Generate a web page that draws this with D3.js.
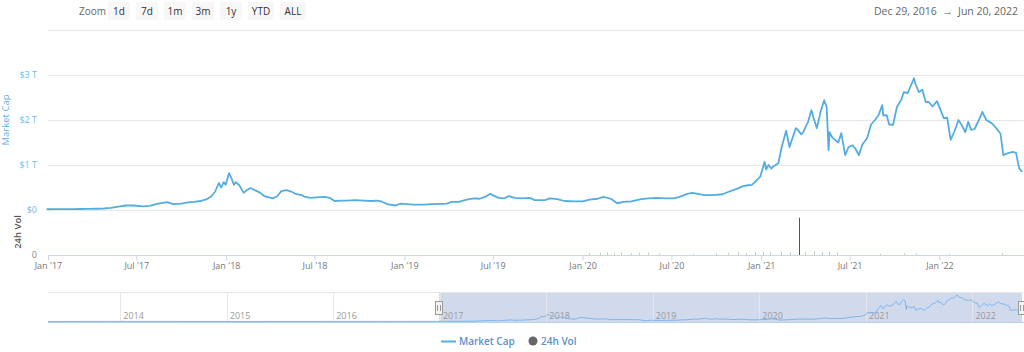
<!DOCTYPE html>
<html>
<head>
<meta charset="utf-8">
<script src="https://cdn.jsdelivr.net/npm/d3@7"></script>
<style>
  body { margin: 0; background: #fff; }
  svg { display: block; font-family: "Open Sans", sans-serif; }
</style>
</head>
<body>
<script>
// market cap, trillions of USD
var capDates = ["2016-12-29","2017-01-15","2017-02-01","2017-02-20","2017-03-10","2017-03-25","2017-04-10","2017-04-25","2017-05-10","2017-05-25","2017-06-10","2017-06-25","2017-07-15","2017-07-28","2017-08-15","2017-09-02","2017-09-15","2017-10-01","2017-10-15","2017-10-27","2017-11-10","2017-11-22","2017-12-01","2017-12-09","2017-12-17","2017-12-22","2017-12-27","2017-12-31","2018-01-07","2018-01-12","2018-01-17","2018-01-21","2018-01-28","2018-02-06","2018-02-12","2018-02-20","2018-03-05","2018-03-12","2018-03-20","2018-03-30","2018-04-06","2018-04-15","2018-04-24","2018-05-05","2018-05-14","2018-05-23","2018-06-05","2018-06-12","2018-06-23","2018-07-05","2018-07-22","2018-08-01","2018-08-11","2018-08-25","2018-09-05","2018-09-22","2018-10-10","2018-10-25","2018-11-06","2018-11-15","2018-11-27","2018-12-14","2018-12-24","2019-01-05","2019-01-20","2019-02-11","2019-02-25","2019-03-15","2019-03-29","2019-04-08","2019-04-22","2019-05-13","2019-05-25","2019-06-04","2019-06-15","2019-06-26","2019-07-01","2019-07-13","2019-07-25","2019-08-03","2019-08-15","2019-08-30","2019-09-15","2019-09-25","2019-10-16","2019-10-26","2019-11-10","2019-11-25","2019-12-15","2020-01-01","2020-01-15","2020-02-01","2020-02-13","2020-02-28","2020-03-12","2020-03-25","2020-04-10","2020-04-30","2020-05-15","2020-06-01","2020-06-20","2020-07-05","2020-07-18","2020-08-02","2020-08-13","2020-09-07","2020-09-25","2020-10-14","2020-10-25","2020-11-12","2020-11-25","2020-12-05","2020-12-13","2020-12-22","2020-12-30","2021-01-08","2021-01-11","2021-01-16","2021-01-22","2021-01-25","2021-02-05","2021-02-12","2021-02-21","2021-02-28","2021-03-03","2021-03-13","2021-03-17","2021-03-24","2021-03-28","2021-04-07","2021-04-14","2021-04-18","2021-04-25","2021-05-03","2021-05-10","2021-05-15","2021-05-19","2021-05-21","2021-05-26","2021-06-01","2021-06-08","2021-06-14","2021-06-22","2021-06-29","2021-07-07","2021-07-13","2021-07-20","2021-07-27","2021-08-06","2021-08-14","2021-08-22","2021-08-29","2021-09-06","2021-09-08","2021-09-15","2021-09-20","2021-09-28","2021-10-06","2021-10-15","2021-10-20","2021-10-28","2021-11-03","2021-11-10","2021-11-13","2021-11-20","2021-11-27","2021-12-04","2021-12-10","2021-12-18","2021-12-27","2022-01-05","2022-01-10","2022-01-17","2022-01-24","2022-02-01","2022-02-09","2022-02-15","2022-02-23","2022-03-01","2022-03-07","2022-03-14","2022-03-22","2022-03-30","2022-04-07","2022-04-18","2022-04-25","2022-04-30","2022-05-06","2022-05-12","2022-05-20","2022-05-31","2022-06-07","2022-06-13","2022-06-18","2022-06-20"];
var capValues = [0.017,0.018,0.018,0.02,0.022,0.025,0.028,0.033,0.045,0.075,0.1,0.1,0.082,0.09,0.14,0.175,0.13,0.14,0.17,0.18,0.2,0.24,0.3,0.4,0.6,0.5,0.62,0.56,0.82,0.7,0.56,0.62,0.55,0.38,0.44,0.49,0.42,0.38,0.31,0.28,0.26,0.3,0.42,0.44,0.41,0.36,0.33,0.29,0.27,0.28,0.29,0.27,0.2,0.21,0.21,0.22,0.21,0.2,0.21,0.19,0.13,0.1,0.14,0.13,0.12,0.12,0.13,0.135,0.14,0.18,0.18,0.24,0.26,0.25,0.29,0.36,0.33,0.27,0.26,0.31,0.27,0.26,0.27,0.22,0.22,0.26,0.24,0.2,0.19,0.19,0.23,0.25,0.29,0.25,0.15,0.18,0.19,0.24,0.26,0.27,0.26,0.26,0.29,0.36,0.38,0.33,0.33,0.35,0.4,0.47,0.53,0.55,0.56,0.65,0.74,1.07,0.9,1.0,0.92,0.96,1.04,1.4,1.76,1.4,1.5,1.82,1.78,1.68,1.73,1.96,2.22,2.05,1.82,2.2,2.44,2.29,1.33,1.73,1.62,1.56,1.5,1.71,1.22,1.4,1.44,1.36,1.22,1.45,1.6,1.9,2.0,2.1,2.33,2.1,2.11,1.9,1.89,2.29,2.45,2.62,2.6,2.75,2.93,2.8,2.62,2.67,2.4,2.4,2.3,2.42,2.18,2.04,2.05,1.56,1.75,2.0,1.9,1.73,1.96,1.78,1.8,1.98,2.18,2.0,1.93,1.85,1.78,1.7,1.22,1.26,1.29,1.27,0.94,0.86,0.87];

// history before the shown range (navigator only)
var earlyDates = ["2013-04-28","2013-11-30","2014-01-01","2014-06-01","2015-01-01","2015-06-01","2016-01-01","2016-06-01"];
var earlyValues = [0.0015,0.013,0.011,0.008,0.004,0.0035,0.007,0.012];

// 24h volume
var volDates = ["2020-01-15","2020-02-05","2020-02-20","2020-03-05","2020-03-20","2020-04-10","2020-04-25","2020-05-15","2020-06-05","2020-08-15","2020-10-01","2020-10-25","2020-11-15","2020-12-01","2020-12-20","2021-01-05","2021-01-20","2021-02-10","2021-03-01","2021-03-19","2021-04-01","2021-04-20","2021-05-05","2021-05-20","2021-06-05","2021-09-01","2021-10-20","2021-11-15","2022-01-20","2022-05-10"];
var volValues = [16,20,24,18,22,16,20,22,14,12,16,20,24,18,28,30,24,30,26,355,24,34,28,32,22,12,16,14,12,16];

var capTicks = [0, 1, 2, 3, 4];
var capTickLabels = ["$0", "$1 T", "$2 T", "$3 T", ""];
var zoomButtons = ["1d", "7d", "1m", "3m", "1y", "YTD", "ALL"];
var navYears = [2014, 2015, 2016, 2017, 2018, 2019, 2020, 2021, 2022];

var width = 1024, height = 352;
var parse = d3.timeParse("%Y-%m-%d");
var blue = "#54ade0";

var cap = capDates.map(function (d, i) { return { date: parse(d), value: capValues[i] }; });
var early = earlyDates.map(function (d, i) { return { date: parse(d), value: earlyValues[i] }; });
var vol = volDates.map(function (d, i) { return { date: parse(d), value: volValues[i] }; });
var navData = early.concat(cap);

var svg = d3.select("body").append("svg")
    .attr("width", width)
    .attr("height", height);

var x = d3.scaleTime()
    .domain([parse("2016-12-29"), parse("2022-06-20")])
    .range([46.5, 1022.4]);
var y = d3.scaleLinear().domain([0, 4]).range([210, 30]);
var yVol = d3.scaleLinear().domain([0, 400]).range([255, 213]);

// zoom buttons
svg.append("text")
    .attr("x", 79).attr("y", 15)
    .attr("font-size", 10).attr("fill", "#666")
    .text("Zoom");
var bx = 108;
zoomButtons.forEach(function (b) {
    var w = b.length > 2 ? 26 : 22;
    svg.append("rect")
        .attr("x", bx).attr("y", 2).attr("width", w).attr("height", 18)
        .attr("fill", "#f7f7f7");
    svg.append("text")
        .attr("x", bx + w / 2).attr("y", 15)
        .attr("text-anchor", "middle")
        .attr("font-size", 10).attr("fill", "#333")
        .text(b);
    bx += w + 6;
});

svg.append("text")
    .attr("x", 1018).attr("y", 15)
    .attr("text-anchor", "end")
    .attr("font-size", 10.5).attr("fill", "#666")
    .text("Dec 29, 2016\u00a0\u00a0\u2192\u00a0\u00a0Jun 20, 2022");

// grid lines
svg.append("g").selectAll("line")
    .data(capTicks)
    .enter().append("line")
    .attr("x1", 48).attr("x2", width)
    .attr("y1", function (d) { return y(d) + 0.5; })
    .attr("y2", function (d) { return y(d) + 0.5; })
    .attr("stroke", "#e6e6e6");

svg.append("g").selectAll("text")
    .data(capTicks)
    .enter().append("text")
    .attr("x", 37)
    .attr("y", function (d) { return y(d) + 3; })
    .attr("text-anchor", "end")
    .attr("font-size", 9)
    .attr("fill", "#6bbde8")
    .text(function (d, i) { return capTickLabels[i]; });

svg.append("text")
    .attr("transform", "translate(9,120) rotate(-90)")
    .attr("text-anchor", "middle")
    .attr("font-size", 9.5)
    .attr("fill", "#5ab3e3")
    .text("Market Cap");

svg.append("text")
    .attr("transform", "translate(21,232) rotate(-90)")
    .attr("text-anchor", "middle")
    .attr("font-size", 9.5)
    .attr("font-weight", 600)
    .attr("fill", "#555")
    .text("24h Vol");

svg.append("text")
    .attr("x", 37).attr("y", 258)
    .attr("text-anchor", "end")
    .attr("font-size", 9).attr("fill", "#888")
    .text("0");

// volume bars
svg.append("g").selectAll("rect")
    .data(vol)
    .enter().append("rect")
    .attr("x", function (d) { return Math.round(x(d.date)); })
    .attr("y", function (d) { return yVol(d.value); })
    .attr("width", 1)
    .attr("height", function (d) { return yVol(0) - yVol(d.value); })
    .attr("fill", function (d) { return d.value > 100 ? "#555" : "#c4c4c4"; });

// x axis
var xAxis = d3.axisBottom(x)
    .tickValues(d3.timeMonth.every(6).range(parse("2017-01-01"), parse("2022-02-01")))
    .tickFormat(d3.timeFormat("%b '%y"))
    .tickSize(5)
    .tickPadding(2);
var gx = svg.append("g")
    .attr("transform", "translate(0,255.5)")
    .call(xAxis);
gx.select(".domain").attr("stroke", "#ccd6eb").attr("d", "M48,0H" + width);
gx.selectAll(".tick line").attr("stroke", "#ccd6eb");
gx.selectAll(".tick text").attr("fill", "#777").attr("font-size", 9)
    .attr("font-family", "Open Sans, sans-serif");

// market cap line
var line = d3.line()
    .x(function (d) { return x(d.date); })
    .y(function (d) { return y(d.value); });
svg.append("path")
    .datum(cap)
    .attr("d", line)
    .attr("fill", "none")
    .attr("stroke", blue)
    .attr("stroke-width", 1.8)
    .attr("stroke-linejoin", "round");

// navigator
var xNav = d3.scaleTime()
    .domain([parse("2013-04-28"), parse("2022-06-20")])
    .range([48, 1022]);
var yNav = d3.scaleLinear()
    .domain([0, d3.max(navData, function (d) { return d.value; })])
    .range([321.5, 295]);

svg.append("rect")
    .attr("x", xNav(parse("2016-12-29"))).attr("y", 293)
    .attr("width", xNav(parse("2022-06-20")) - xNav(parse("2016-12-29")))
    .attr("height", 29)
    .attr("fill", "rgba(102,133,194,0.3)");

svg.append("line")
    .attr("x1", 48).attr("x2", width)
    .attr("y1", 292.5).attr("y2", 292.5)
    .attr("stroke", "#e6e6e6");

var navGrid = svg.append("g").selectAll("g")
    .data(navYears)
    .enter().append("g");
navGrid.append("line")
    .attr("x1", function (d) { return Math.round(xNav(new Date(d, 0, 1))) + 0.5; })
    .attr("x2", function (d) { return Math.round(xNav(new Date(d, 0, 1))) + 0.5; })
    .attr("y1", 293).attr("y2", 322)
    .attr("stroke", "#e6e6e6");
navGrid.append("text")
    .attr("x", function (d) { return xNav(new Date(d, 0, 1)) + 3; })
    .attr("y", 319)
    .attr("font-size", 9).attr("fill", "#999")
    .text(function (d) { return d; });

svg.append("path")
    .datum(navData)
    .attr("d", d3.line()
        .x(function (d) { return xNav(d.date); })
        .y(function (d) { return yNav(d.value); }))
    .attr("fill", "none")
    .attr("stroke", "#7cb5ec")
    .attr("stroke-width", 1);

svg.append("line")
    .attr("x1", 48).attr("x2", width)
    .attr("y1", 322.5).attr("y2", 322.5)
    .attr("stroke", "#b5d3ee");

[xNav(parse("2016-12-29")), xNav(parse("2022-06-20"))].forEach(function (hx) {
    svg.append("rect")
        .attr("x", Math.round(hx) - 3.5).attr("y", 301.5)
        .attr("width", 7).attr("height", 13)
        .attr("fill", "#f2f2f2").attr("stroke", "#999");
    svg.append("path")
        .attr("d", "M" + (Math.round(hx) - 1.5) + ",305V311M" + (Math.round(hx) + 1.5) + ",305V311")
        .attr("stroke", "#999");
});

// legend
var legend = svg.append("g").attr("font-size", 10).attr("font-weight", 600);
legend.append("line")
    .attr("x1", 441).attr("x2", 456)
    .attr("y1", 341.5).attr("y2", 341.5)
    .attr("stroke", blue).attr("stroke-width", 2);
legend.append("text")
    .attr("x", 459).attr("y", 345)
    .attr("fill", "#5b8fc6")
    .text("Market Cap");
legend.append("circle")
    .attr("cx", 533).attr("cy", 341).attr("r", 4.5)
    .attr("fill", "#666");
legend.append("text")
    .attr("x", 541).attr("y", 345)
    .attr("fill", "#5b8fc6")
    .text("24h Vol");
</script>
</body>
</html>
